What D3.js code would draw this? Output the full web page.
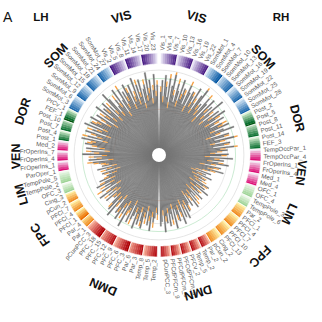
<!DOCTYPE html>
<html><head><meta charset="utf-8">
<script src="https://cdn.jsdelivr.net/npm/d3@7"></script>
<style>body{margin:0;background:#fff}svg{display:block}</style>
</head><body><svg id="c" width="322" height="322"></svg>
<script>
// ---------------- DATA ----------------
const networks = ["VIS","SOM","DOR","VEN","LIM","FPC","DMN"];
// [sub-region, parcel count, network index] in drawing order (from top gap outward)
const rhRegions = [["Vis",24,0],["SomMot",29,1],["Post",14,2],["FEF",4,2],["PrCv",1,2],
  ["TempOccPar",6,3],["FrOperIns",6,3],["Med",6,3],["OFC",4,4],["TempPole",7,4],
  ["Par",4,5],["PFCl",14,5],["Cing",3,5],["pCun",3,5],
  ["Par",3,6],["Temp",6,6],["PFCv",2,6],["PFCdPFCm",9,6],["pCunPCC",5,6]];
const lhRegions = [["Vis",24,0],["SomMot",28,1],["PrCv",1,2],["FEF",3,2],["Post",12,2],
  ["Med",4,3],["FrOperIns",8,3],["ParOper",3,3],["TempPole",7,4],["OFC",4,4],
  ["Cing",3,5],["pCun",2,5],["PFCl",8,5],["Par",6,5],
  ["pCunPCC",5,6],["PFC",18,6],["Par",6,6],["Temp",8,6]];
const hemiLabels = ["LH","RH"];
const panelLabel = "A";

const rhGray = [72,85,60,91,78,66,88,54,80,93,70,62,84,76,58,90,68,81,74,63,87,79,56,82,
  77,64,89,71,58,83,92,66,75,60,86,79,53,88,70,81,62,94,73,57,84,68,90,76,61,85,72,66,80,
  74,87,63,79,91,68,56,83,77,65,88,71,59,82,75,62,86,70,78,
  66,58,79,71,52,84,63,74,55,68,80,60,47,72,64,57,76,61,
  52,44,63,39,58,48,66,42,55,60,46,
  57,49,68,61,43,65,54,72,47,59,63,51,70,45,62,56,67,50,74,58,53,69,48,64,
  66,73,58,80,62,77,55,84,69,60,79,71,64,86,57,75,68,82,61,78,70,88,63,76,81];
const rhOrange = [78,82,67,89,84,64,93,61,77,96,76,60,90,73,65,88,74,79,80,61,92,76,63,80,
  82,70,86,77,64,80,95,72,73,67,91,76,60,85,76,79,68,91,79,63,82,74,88,82,67,83,78,64,86,
  80,84,69,77,88,74,62,81,83,63,92,77,65,80,81,60,90,76,75,
  72,64,76,77,58,81,69,72,61,74,78,66,53,70,70,63,74,67,
  58,50,60,45,56,54,63,48,61,58,52,
  63,55,66,67,49,63,60,70,53,65,61,57,68,51,68,54,72,56,71,64,59,67,54,62,
  72,71,64,78,68,75,61,82,75,66,77,77,62,84,63,81,66,80,67,76,76,85,69,74,79];
const lhGray = [80,67,92,74,59,86,71,95,63,82,77,55,89,69,84,61,93,72,66,87,58,79,90,70,
  83,62,88,75,54,91,68,80,72,59,85,94,65,78,57,87,73,82,61,90,69,76,56,84,71,63,89,74,
  79,86,64,92,70,81,58,88,75,67,84,60,90,73,77,85,
  71,62,83,56,77,68,87,59,74,65,80,52,76,69,61,
  58,66,49,72,55,63,46,68,60,51,64,
  62,74,55,69,80,58,71,64,77,52,67,83,60,73,57,79,65,70,61,
  76,84,63,90,70,58,82,74,88,66,79,61,93,72,68,85,57,80,75,64,89,71,83,62,78,86,67,74,59,81,70,87,65,77,72,60,68];
const lhOrange = [85,73,89,80,65,83,77,92,69,88,74,61,86,75,90,67,91,78,72,84,64,85,87,76,
  80,68,93,72,60,88,74,86,70,65,82,91,71,84,63,85,79,80,67,87,75,82,62,81,77,69,86,80,
  85,83,70,89,76,87,64,85,81,73,90,66,87,79,83,82,
  77,68,80,62,83,74,84,65,80,71,77,58,82,75,67,
  64,63,55,70,61,69,52,66,66,57,62,
  68,72,61,75,78,64,77,62,83,58,73,80,66,79,63,77,71,68,67,
  82,82,69,87,76,64,80,80,85,72,85,67,90,78,74,83,63,86,73,70,86,77,81,68,84,84,73,80,65,79,76,84,71,83,70,66,74];
const gridLevels = [52,78,87,96.5];

// ---------------- LAYOUT ----------------
const cx=159, cy=155;
const svg=d3.select("#c");
svg.append("rect").attr("width",322).attr("height",322).attr("fill","#fff");
const g=svg.append("g").attr("transform",`translate(${cx},${cy})`);
const gap=1*Math.PI/180;

function buildParcels(regions, side, gray, orange){
  const out=[]; let k=0; const netCount={};
  regions.forEach(([name,n,net])=>{
    for(let i=0;i<n;i++){
      const num = side==="R" ? i+1 : n-i;
      netCount[net]=(netCount[net]||0);
      out.push({id:side+k, side, idx:k, name:name+"_"+num, net, j:netCount[net], gv:gray[k], ov:orange[k]});
      netCount[net]++; k++;
    }
  });
  out.forEach(p=>p.netN=netCount[p.net]);
  return out;
}
const rh=buildParcels(rhRegions,"R",rhGray,rhOrange);
const lh=buildParcels(lhRegions,"L",lhGray,lhOrange);
const all=lh.concat(rh);

const xR=d3.scaleBand().domain(rh.map(d=>d.id)).range([gap,Math.PI-gap]);
const xL=d3.scaleBand().domain(lh.map(d=>d.id)).range([-gap,-(Math.PI-gap)]);
const xRb=xR.copy().paddingInner(0.15), xLb=xL.copy().paddingInner(0.15);
const X=d=>d.side==="R"?xR:xL, XB=d=>d.side==="R"?xRb:xLb;
const y=d3.scaleLinear().domain([0,100]).range([0,88]);

// grid circles
const gridColors=["#f3cbbb","#e3e3e3","#bfe6c8","#dedede"];
g.selectAll("circle.grid").data(gridLevels).join("circle")
  .attr("r",d=>y(d)).attr("fill","none").attr("stroke",(d,i)=>gridColors[i]).attr("stroke-width",0.8);

// bars: gray, plus orange extension where orange exceeds gray
g.append("g").selectAll("path").data(all).join("path")
  .attr("d",d3.arc().innerRadius(0).outerRadius(d=>y(d.gv))
    .startAngle(d=>XB(d)(d.id)).endAngle(d=>XB(d)(d.id)+XB(d).bandwidth()))
  .attr("fill","#757575").attr("stroke","#757575").attr("stroke-width",0.3);
g.append("g").selectAll("path").data(all.filter(d=>d.ov>d.gv)).join("path")
  .attr("d",d3.arc().innerRadius(d=>y(d.gv)).outerRadius(d=>y(d.ov))
    .startAngle(d=>XB(d)(d.id)).endAngle(d=>XB(d)(d.id)+XB(d).bandwidth()))
  .attr("fill","#f5a043");
g.append("circle").attr("r",7).attr("fill","#fff");

// ring
const ringCols=[["#e4def2","#4a1d85"],["#d6e7f6","#1c68ad"],["#d9f0d3","#0b7030"],["#f2e2f0","#dc0f76"],
  ["#eef8ea","#9fd497"],["#fff2a8","#f08c22"],["#f9b29b","#b50f16"]];
const nBlocks=[3,4,3,3,2,4,5];
all.forEach(d=>{
  const nb=nBlocks[d.net]; const size=d.netN/nb;
  d.block=Math.floor(d.j/size);
  const b0=Math.round(d.block*size), b1=Math.round((d.block+1)*size)-1;
  d.t = b1>b0 ? (d.j-b0)/(b1-b0) : 1;
});
const ringArc=d3.arc().innerRadius(91).outerRadius(102)
  .startAngle(d=>X(d)(d.id)).endAngle(d=>X(d)(d.id)+X(d).bandwidth()+0.002);
g.append("g").selectAll("path").data(all).join("path").attr("d",ringArc)
  .attr("fill",d=>d3.interpolateRgb(ringCols[d.net][0],ringCols[d.net][1])(Math.pow(d.t,0.9)));
// block outlines
const blocks=d3.groups(all,d=>d.side,d=>d.net,d=>d.block);
const blockArcs=[];
blocks.forEach(([s,nets])=>nets.forEach(([n,bl])=>bl.forEach(([b,ps])=>{
  const a=ps.map(p=>X(p)(p.id)); const bw=X(ps[0]).bandwidth();
  blockArcs.push({a0:d3.min(a),a1:d3.max(a)+bw});
})));
g.append("g").selectAll("path").data(blockArcs).join("path")
  .attr("d",d3.arc().innerRadius(91).outerRadius(102).startAngle(d=>d.a0).endAngle(d=>d.a1))
  .attr("fill","none").attr("stroke","#fff").attr("stroke-width",0.6);

// parcel labels (every 3rd)
const deg=r=>r*180/Math.PI;
const labs=all.filter(d=>d.side==="R"?d.idx%3===0:d.idx%3===1);
g.append("g").selectAll("text").data(labs).join("text")
  .attr("transform",d=>{
    const a=deg(X(d)(d.id)+X(d).bandwidth()/2);
    return d.side==="R"?`rotate(${a-90}) translate(104.5,0)`:`rotate(${a+90}) translate(-104.5,0)`;
  })
  .attr("text-anchor",d=>d.side==="R"?"start":"end")
  .attr("dominant-baseline","central")
  .attr("font-family","'Liberation Sans',Arial,sans-serif").attr("font-size",6.2).attr("fill","#5a5a5a")
  .text(d=>d.name);

// network labels
const netLab=[];
d3.groups(all,d=>d.side,d=>d.net).forEach(([s,nets])=>nets.forEach(([n,ps])=>{
  const a=ps.map(p=>X(p)(p.id)); const bw=X(ps[0]).bandwidth();
  netLab.push({name:networks[n],a:(d3.min(a)+d3.max(a)+bw)/2});
}));
g.append("g").selectAll("text").data(netLab).join("text")
  .attr("transform",d=>`rotate(${deg(d.a)}) translate(0,-143)`)
  .attr("text-anchor","middle").attr("dominant-baseline","central")
  .attr("font-family","'Liberation Sans',Arial,sans-serif").attr("font-weight","bold").attr("font-size",12.5)
  .attr("fill","#111").text(d=>d.name);

// hemisphere + panel labels
svg.selectAll("text.h").data(hemiLabels).join("text").attr("class","h")
  .attr("x",(d,i)=>i===0?41:281).attr("y",17).attr("text-anchor","middle").attr("dominant-baseline","central")
  .attr("font-family","'Liberation Sans',Arial,sans-serif").attr("font-weight","bold").attr("font-size",11.5)
  .attr("fill","#111").text(d=>d);
svg.append("text").attr("x",3).attr("y",22).attr("font-family","'Liberation Sans',Arial,sans-serif")
  .attr("font-size",14).attr("fill","#111").text(panelLabel);
</script></body></html>
